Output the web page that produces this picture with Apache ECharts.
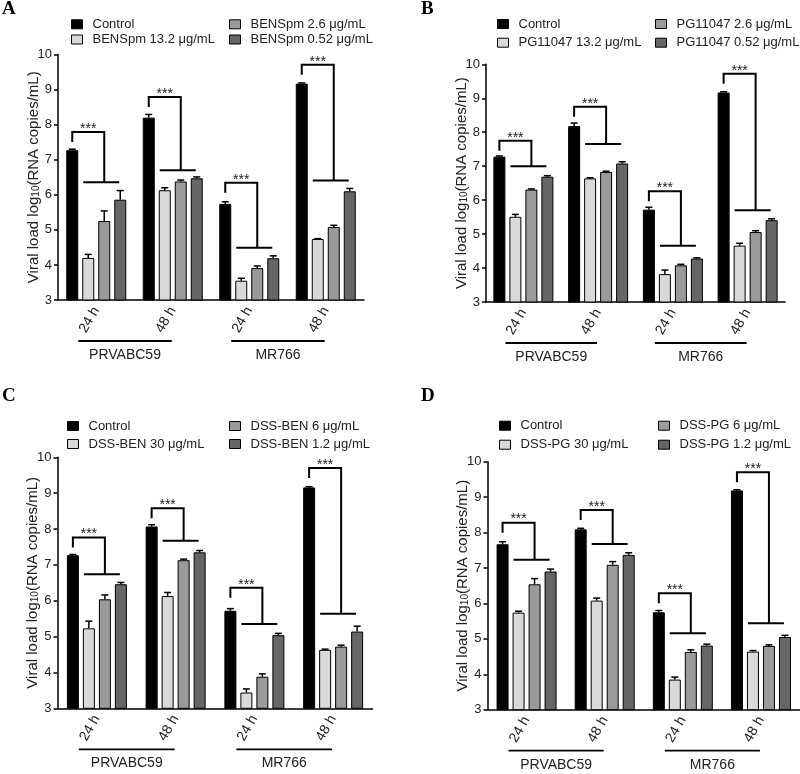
<!DOCTYPE html>
<html><head><meta charset="utf-8">
<script src="https://cdn.jsdelivr.net/npm/echarts@6/dist/echarts.min.js"></script>
<style>html,body{margin:0;padding:0;background:#fff}#c{width:800px;height:774px}</style>
</head><body><div id="c"></div>
<script>
// ---------- DATA ----------
const categories = ['24 h', '48 h', '24 h', '48 h'];
const groupLabels = ['PRVABC59', 'MR766'];
const yMin = 3, yMax = 10, yStep = 1;

const namesA = ['Control', 'BENSpm 13.2 μg/mL', 'BENSpm 2.6 μg/mL', 'BENSpm 0.52 μg/mL'];
const meanA = [[7.27, 8.20, 5.74, 9.17], [4.20, 6.13, 3.55, 4.74], [5.25, 6.38, 3.91, 5.08], [5.86, 6.47, 4.19, 6.10]];
const errA  = [[0.03, 0.09, 0.06, 0.02], [0.10, 0.07, 0.07, 0.01], [0.29, 0.04, 0.06, 0.05], [0.26, 0.04, 0.07, 0.08]];
const brTopA = [7.79, 8.79, 6.34, 9.71];
const brLowA = [6.36, 6.70, 4.49, 6.41];

const namesB = ['Control', 'PG11047 13.2 μg/mL', 'PG11047 2.6 μg/mL', 'PG11047 0.52 μg/mL'];
const meanB = [[7.28, 8.18, 5.72, 9.17], [5.51, 6.64, 3.82, 4.66], [6.31, 6.83, 4.08, 5.06], [6.69, 7.08, 4.28, 5.41]];
const errB  = [[0.02, 0.09, 0.07, 0.02], [0.07, 0.02, 0.12, 0.07], [0.02, 0.02, 0.03, 0.04], [0.03, 0.05, 0.02, 0.04]];
const brTopB = [7.75, 8.75, 6.26, 9.72];
const brLowB = [7.00, 7.65, 4.66, 5.70];

const namesC = ['Control', 'DSS-BEN 30 μg/mL', 'DSS-BEN 6 μg/mL', 'DSS-BEN 1.2 μg/mL'];
const meanC = [[7.27, 8.07, 5.72, 9.16], [5.23, 6.13, 3.44, 4.63], [6.04, 7.13, 3.88, 4.72], [6.46, 7.35, 5.04, 5.14]];
const errC  = [[0.02, 0.05, 0.06, 0.02], [0.20, 0.10, 0.10, 0.02], [0.12, 0.03, 0.08, 0.04], [0.05, 0.05, 0.05, 0.15]];
const brTopC = [7.76, 8.58, 6.36, 9.70];
const brLowC = [6.74, 7.67, 5.35, 5.64];

const namesD = ['Control', 'DSS-PG 30 μg/mL', 'DSS-PG 6 μg/mL', 'DSS-PG 1.2 μg/mL'];
const meanD = [[7.67, 8.09, 5.75, 9.19], [5.74, 6.08, 3.85, 4.64], [6.54, 7.09, 4.63, 4.80], [6.90, 7.37, 4.81, 5.05]];
const errD  = [[0.07, 0.03, 0.05, 0.02], [0.04, 0.07, 0.07, 0.03], [0.16, 0.09, 0.06, 0.03], [0.07, 0.06, 0.04, 0.05]];
const brTopD = [8.28, 8.64, 6.29, 9.70];
const brLowD = [7.23, 7.68, 5.16, 5.44];

// ---------- STYLE / LAYOUT ----------
const FONT = '"Liberation Sans", Arial, sans-serif';
const colors = ['#000000', '#d9d9d9', '#9a9a9a', '#666666'];
const BAR_W = 12, BAR_GAP = 4;
const panels = [
  {letter: 'A', names: namesA, mean: meanA, err: errA, top: brTopA, low: brLowA,
   grid: {left: 58, width: 306, top: 54.5, height: 245.5}, lx: 2, ly: 0,
   leg1: [71, 17.3], leg2: [229, 17.3], legGap: 1.2},
  {letter: 'B', names: namesB, mean: meanB, err: errB, top: brTopB, low: brLowB,
   grid: {left: 486, width: 299, top: 64.3, height: 237.7}, lx: 421, ly: 0,
   leg1: [497, 17], leg2: [655, 17], legGap: 4.7},
  {letter: 'C', names: namesC, mean: meanC, err: errC, top: brTopC, low: brLowC,
   grid: {left: 57.5, width: 315, top: 457.3, height: 251}, lx: 2, ly: 387,
   leg1: [67, 419], leg2: [229, 419], legGap: 4},
  {letter: 'D', names: namesD, mean: meanD, err: errD, top: brTopD, low: brLowD,
   grid: {left: 487.5, width: 313, top: 461.7, height: 248}, lx: 421, ly: 387,
   leg1: [499, 418.7], leg2: [658, 418.7], legGap: 5}
];

const option = {
  animation: false,
  backgroundColor: '#fff',
  textStyle: {fontFamily: FONT},
  grid: [], xAxis: [], yAxis: [], legend: [], series: [], graphic: []
};

panels.forEach((p, pi) => {
  option.grid.push(Object.assign({containLabel: false}, p.grid));
  option.xAxis.push({
    type: 'category', gridIndex: pi, data: categories,
    axisLine: {lineStyle: {color: '#000', width: 1.5}},
    axisTick: {alignWithLabel: true, length: 4, lineStyle: {color: '#000', width: 1.5}},
    axisLabel: {rotate: 60, interval: 0, fontSize: 14, margin: 8, color: '#222', fontFamily: FONT},
    splitLine: {show: false}
  });
  option.yAxis.push({
    type: 'value', gridIndex: pi, min: yMin, max: yMax, interval: yStep,
    name: 'Viral load log{sub|10}(RNA copies/mL)', nameLocation: 'middle', nameGap: 17,
    nameMoveOverlap: false,
    nameTextStyle: {fontSize: 15, color: '#222', fontFamily: FONT,
      rich: {sub: {fontSize: 10, color: '#222', fontFamily: FONT, verticalAlign: 'bottom', padding: [4, 0, 0, 0]}}},
    axisLine: {show: true, lineStyle: {color: '#000', width: 1.5}},
    axisTick: {show: true, length: 4, lineStyle: {color: '#000', width: 1.5}},
    axisLabel: {fontSize: 13, margin: 6, color: '#222', fontFamily: FONT},
    splitLine: {show: false}
  });
  const legBase = {
    orient: 'vertical', icon: 'rect', itemWidth: 11, itemHeight: 9, itemGap: p.legGap,
    itemStyle: {borderColor: '#000', borderWidth: 1},
    textStyle: {fontSize: 13, lineHeight: 14, color: '#222', fontFamily: FONT, padding: [0, 0, 0, 5]},
    selectedMode: false, padding: 0
  };
  option.legend.push(Object.assign({}, legBase, {left: p.leg1[0], top: p.leg1[1], data: [p.names[0], p.names[1]]}));
  option.legend.push(Object.assign({}, legBase, {left: p.leg2[0], top: p.leg2[1], data: [p.names[2], p.names[3]]}));

  p.names.forEach((nm, si) => {
    option.series.push({
      type: 'bar', name: nm, xAxisIndex: pi, yAxisIndex: pi,
      data: p.mean[si], barWidth: BAR_W, barGap: (BAR_GAP / BAR_W * 100) + '%',
      itemStyle: {color: colors[si], borderColor: '#000', borderWidth: 1},
      emphasis: {disabled: true}, z: 2
    });
  });

  // error bars (upper half)
  const errData = [];
  p.mean.forEach((row, si) => row.forEach((v, ci) => errData.push([ci, v, si, p.err[si][ci]])));
  option.series.push({
    type: 'custom', xAxisIndex: pi, yAxisIndex: pi, silent: true, z: 5, clip: false,
    encode: {x: 0, y: 1},
    data: errData,
    renderItem: (params, api) => {
      const ci = api.value(0), v = api.value(1), si = api.value(2), e = api.value(3);
      const off = (si - 1.5) * (BAR_W + BAR_GAP);
      const a = api.coord([ci, v]);
      const b = api.coord([ci, v + e]);
      const x = a[0] + off;
      const st = {stroke: '#000', lineWidth: 1.5};
      return {type: 'group', children: [
        {type: 'line', shape: {x1: x, y1: a[1], x2: x, y2: b[1]}, style: st},
        {type: 'line', shape: {x1: x - 3.5, y1: b[1], x2: x + 3.5, y2: b[1]}, style: st}
      ]};
    }
  });

  // significance brackets
  const brData = p.top.map((t, ci) => [ci, t, p.low[ci]]);
  option.series.push({
    type: 'custom', xAxisIndex: pi, yAxisIndex: pi, silent: true, z: 6, clip: false,
    encode: {x: 0, y: [1, 2]},
    data: brData,
    renderItem: (params, api) => {
      const ci = api.value(0);
      const t = api.coord([ci, api.value(1)]);
      const lowY = api.coord([ci, api.value(2)])[1];
      const cx = t[0], ty = t[1];
      const xL = cx - 24, xR = cx + 8;
      const st = {stroke: '#000', lineWidth: 2, fill: null};
      return {type: 'group', children: [
        {type: 'polyline', shape: {points: [[xL, ty + 10], [xL, ty], [xR, ty], [xR, lowY]]}, style: st},
        {type: 'line', shape: {x1: cx - 13, y1: lowY, x2: cx + 23, y2: lowY}, style: st},
        {type: 'text', style: {text: '***', x: (xL + xR) / 2, y: ty - 3, align: 'center', verticalAlign: 'middle',
          font: '14px ' + FONT, fill: '#222'}}
      ]};
    }
  });

  // group labels below axis
  option.series.push({
    type: 'custom', xAxisIndex: pi, yAxisIndex: pi, silent: true, z: 6, clip: false,
    encode: {x: [0, 2], y: 1},
    data: [[0, yMin, 1, 0], [2, yMin, 3, 1]],
    renderItem: (params, api) => {
      const a = api.coord([api.value(0), api.value(1)]);
      const b = api.coord([api.value(2), api.value(1)]);
      const x1 = a[0] - 18, x2 = b[0] - 1;
      const ly = a[1] + 41;
      return {type: 'group', children: [
        {type: 'line', shape: {x1: x1, y1: ly, x2: x2, y2: ly}, style: {stroke: '#000', lineWidth: 1.8}},
        {type: 'text', style: {text: groupLabels[api.value(3)], x: (x1 + x2) / 2, y: ly + 14, align: 'center',
          verticalAlign: 'middle', font: '14px ' + FONT, fill: '#222'}}
      ]};
    }
  });

  option.graphic.push({type: 'text', left: p.lx, top: p.ly,
    style: {text: p.letter, font: 'bold 19px "Liberation Serif", "Times New Roman", serif', fill: '#000'}});
});

const chart = echarts.init(document.getElementById('c'), null, {renderer: 'canvas'});
chart.setOption(option);
</script>
</body></html>
